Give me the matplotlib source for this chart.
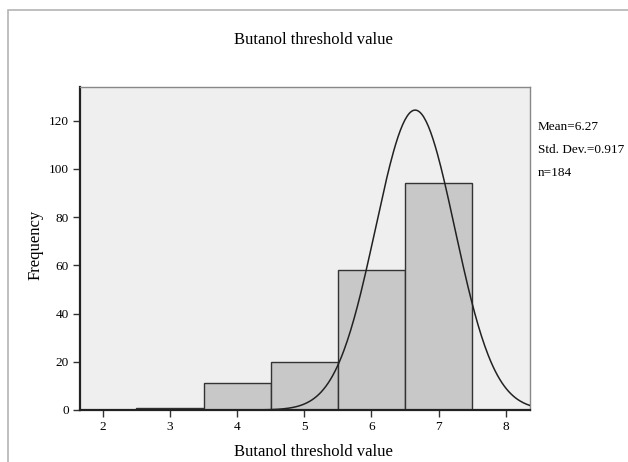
import numpy as np
import matplotlib.pyplot as plt
from matplotlib.patches import Rectangle

# histogram bins (centres) and counts
bin_centres = [3, 4, 5, 6, 7]
counts = [1, 11, 20, 58, 94]
x_ticks = [2, 3, 4, 5, 6, 7, 8]
y_ticks = [0, 20, 40, 60, 80, 100, 120]

# normal curve as drawn in the picture
curve_mean = 6.65
curve_sd = 0.59
curve_n = 184
bin_width = 1.0

stats_lines = ["Mean=6.27", "Std. Dev.=0.917", "n=184"]

plt.rcParams["font.family"] = ["Liberation Serif", "DejaVu Serif"]

W, H = 628, 462
fig = plt.figure(figsize=(W / 100, H / 100), dpi=100)
fig.patch.set_facecolor("white")

# outer light frame
fig.patches.append(Rectangle((8 / W, -0.1), 1.2, 1.1 - 10 / H, transform=fig.transFigure,
                             fill=False, edgecolor="#b4b4b4", linewidth=1.2))

ax = fig.add_axes([80 / W, 1 - 410 / H, 450 / W, 323 / H])
ax.set_facecolor("#efefef")

ax.bar(bin_centres, counts, width=bin_width, color="#c8c8c8", edgecolor="#333333",
       linewidth=1.0, zorder=2)

xs = np.linspace(1.66, 8.36, 400)
ys = curve_n * bin_width / (curve_sd * np.sqrt(2 * np.pi)) * np.exp(-0.5 * ((xs - curve_mean) / curve_sd) ** 2)
ax.plot(xs, ys, color="#222222", linewidth=1.1, zorder=3)

ax.set_xlim(1.66, 8.36)
ax.set_ylim(0, 134)
ax.set_xticks(x_ticks)
ax.set_yticks(y_ticks)
ax.tick_params(axis="both", labelsize=9.5, length=5, width=1, color="#333333", pad=3)

for side in ["left", "bottom"]:
    ax.spines[side].set_linewidth(1.6)
    ax.spines[side].set_color("#222222")
for side in ["top", "right"]:
    ax.spines[side].set_linewidth(1.0)
    ax.spines[side].set_color("#888888")

fig.text(313 / W, 1 - 40 / H, "Butanol threshold value", ha="center", va="center", fontsize=12)
fig.text(313 / W, 1 - 452 / H, "Butanol threshold value", ha="center", va="center", fontsize=12)
fig.text(36 / W, 1 - 245 / H, "Frequency", ha="center", va="center", rotation=90, fontsize=12)

for i, line in enumerate(stats_lines):
    fig.text(538 / W, 1 - (127 + 23 * i) / H, line, ha="left", va="center", fontsize=9.5)

fig.savefig("out.png", dpi=100)
